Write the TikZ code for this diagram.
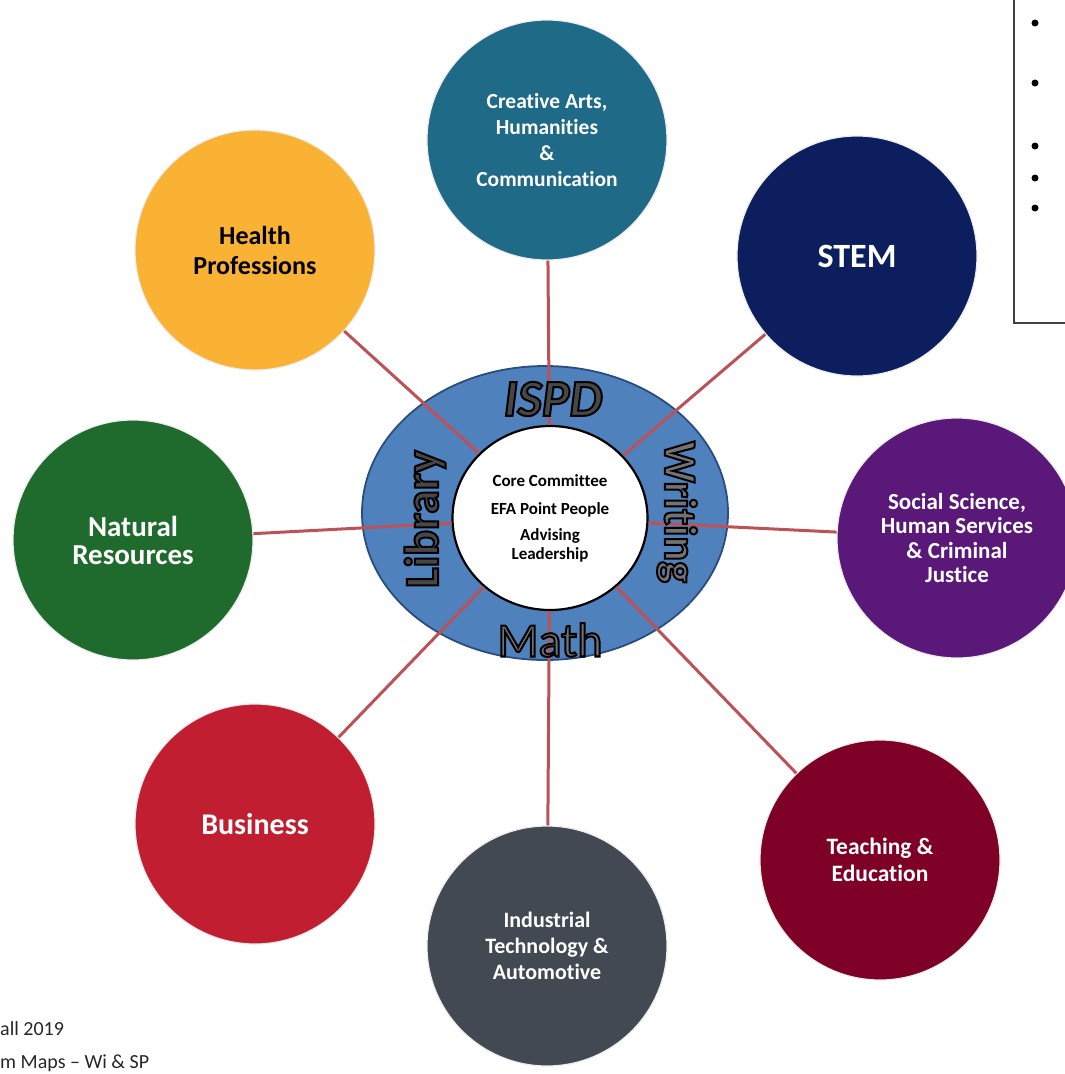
\documentclass[tikz,border=0pt]{standalone}
\usepackage{fontspec}
\setmainfont[Ligatures=NoCommon]{Carlito}
\usetikzlibrary{shapes.geometric}
\definecolor{cathue}{HTML}{1F6A87}
\definecolor{healthhue}{HTML}{F9B233}
\definecolor{stemhue}{HTML}{0C1E5E}
\definecolor{naturehue}{HTML}{1F6B2E}
\definecolor{socialhue}{HTML}{5A1878}
\definecolor{businesshue}{HTML}{C11F31}
\definecolor{industryhue}{HTML}{434952}
\definecolor{teachhue}{HTML}{7E0026}
\definecolor{ringblue}{HTML}{4F81BD}
\definecolor{ringedge}{HTML}{2A4C7E}
\definecolor{linkred}{HTML}{BD5158}
\newcommand\outl[1]{\special{pdf:literal direct 2 Tr 2 w 0 0 0 RG}#1\special{pdf:literal direct 0 Tr}}
\begin{document}
\begin{tikzpicture}[x=1pt,y=-1pt,
  circ/.style={circle,minimum size=240pt,inner sep=0pt,draw=white!85!gray,line width=1.2pt,text=white,align=center},
  conn/.style={draw=linkred,line width=3pt},
  ringlbl/.style={inner sep=0pt,text=black!55},
  boxline/.style={draw=black!75,line width=1.5pt}]
\useasboundingbox (0,0) rectangle (1065,1074);
\clip (0,0) rectangle (1065,1074);

% central ring
\node[ellipse,minimum width=366pt,minimum height=294pt,fill=ringblue,draw=ringedge,line width=1.8pt] (ring) at (545,513) {};
\node[ellipse,minimum width=195pt,minimum height=184pt,fill=white,draw=black,line width=2.2pt,inner sep=0pt,align=center,
      font=\bfseries\fontsize{17}{19}\selectfont] (inner) at (550,518)
      {Core Committee\\[9pt]EFA Point People\\[7pt]Advising\\Leadership};

% outer circles
\node[circ,fill=cathue,font=\bfseries\fontsize{21.5}{26}\selectfont] (cat) at (547,140) {Creative Arts,\\Humanities\\\&\\Communication};
\node[circ,fill=healthhue,text=black,font=\bfseries\fontsize{26}{30}\selectfont] (health) at (255,250) {Health\\Professions};
\node[circ,fill=stemhue,font=\bfseries\fontsize{34}{34}\selectfont] (stem) at (857,256) {STEM};
\node[circ,fill=naturehue,font=\bfseries\fontsize{29}{28}\selectfont] (nature) at (133,540) {Natural\\Resources};
\node[circ,fill=socialhue,font=\bfseries\fontsize{23}{24.5}\selectfont] (social) at (957,538) {Social Science,\\Human Services\\\& Criminal\\Justice};
\node[circ,fill=businesshue,font=\bfseries\fontsize{30}{30}\selectfont] (business) at (255,824) {Business};
\node[circ,fill=industryhue,font=\bfseries\fontsize{22}{26}\selectfont] (industry) at (547,946) {Industrial\\Technology \&\\Automotive};
\node[circ,fill=teachhue,font=\bfseries\fontsize{23.5}{27}\selectfont] (teach) at (880,860) {Teaching \&\\Education};

% connectors
\foreach \n in {cat,health,stem,nature,social,business,industry,teach}
  \draw[conn] (\n) -- (inner);

% ring labels
\node[ringlbl,text=black!72,font=\bfseries\itshape\fontsize{52}{52}\selectfont] (ispd) at (553,399) {\outl{ISPD}};
\node[ringlbl,text=black!72,rotate=90,font=\bfseries\fontsize{48}{48}\selectfont] (lib) at (425,519) {\outl{Library}};
\node[ringlbl,rotate=-90,font=\bfseries\fontsize{46}{46}\selectfont] (wri) at (677,512) {\outl{Writing}};
\node[ringlbl,font=\fontsize{48}{48}\selectfont] (math) at (550,640) {\outl{Math}};

% top-right box
\draw[boxline] (1014,-5) rectangle (1080,323);
\foreach \y in {23,83,146,178,208}
  \fill[black] (1035,\y) circle (3.5pt);

% bottom-left notes
\node[anchor=base west,inner sep=0pt,text=black!85,font=\fontsize{20}{20}\selectfont] (note1) at (0,1035) {all 2019};
\node[anchor=base west,inner sep=0pt,text=black!85,font=\fontsize{20}{20}\selectfont] (note2) at (0,1068) {m Maps – Wi \& SP};
\end{tikzpicture}
\end{document}
